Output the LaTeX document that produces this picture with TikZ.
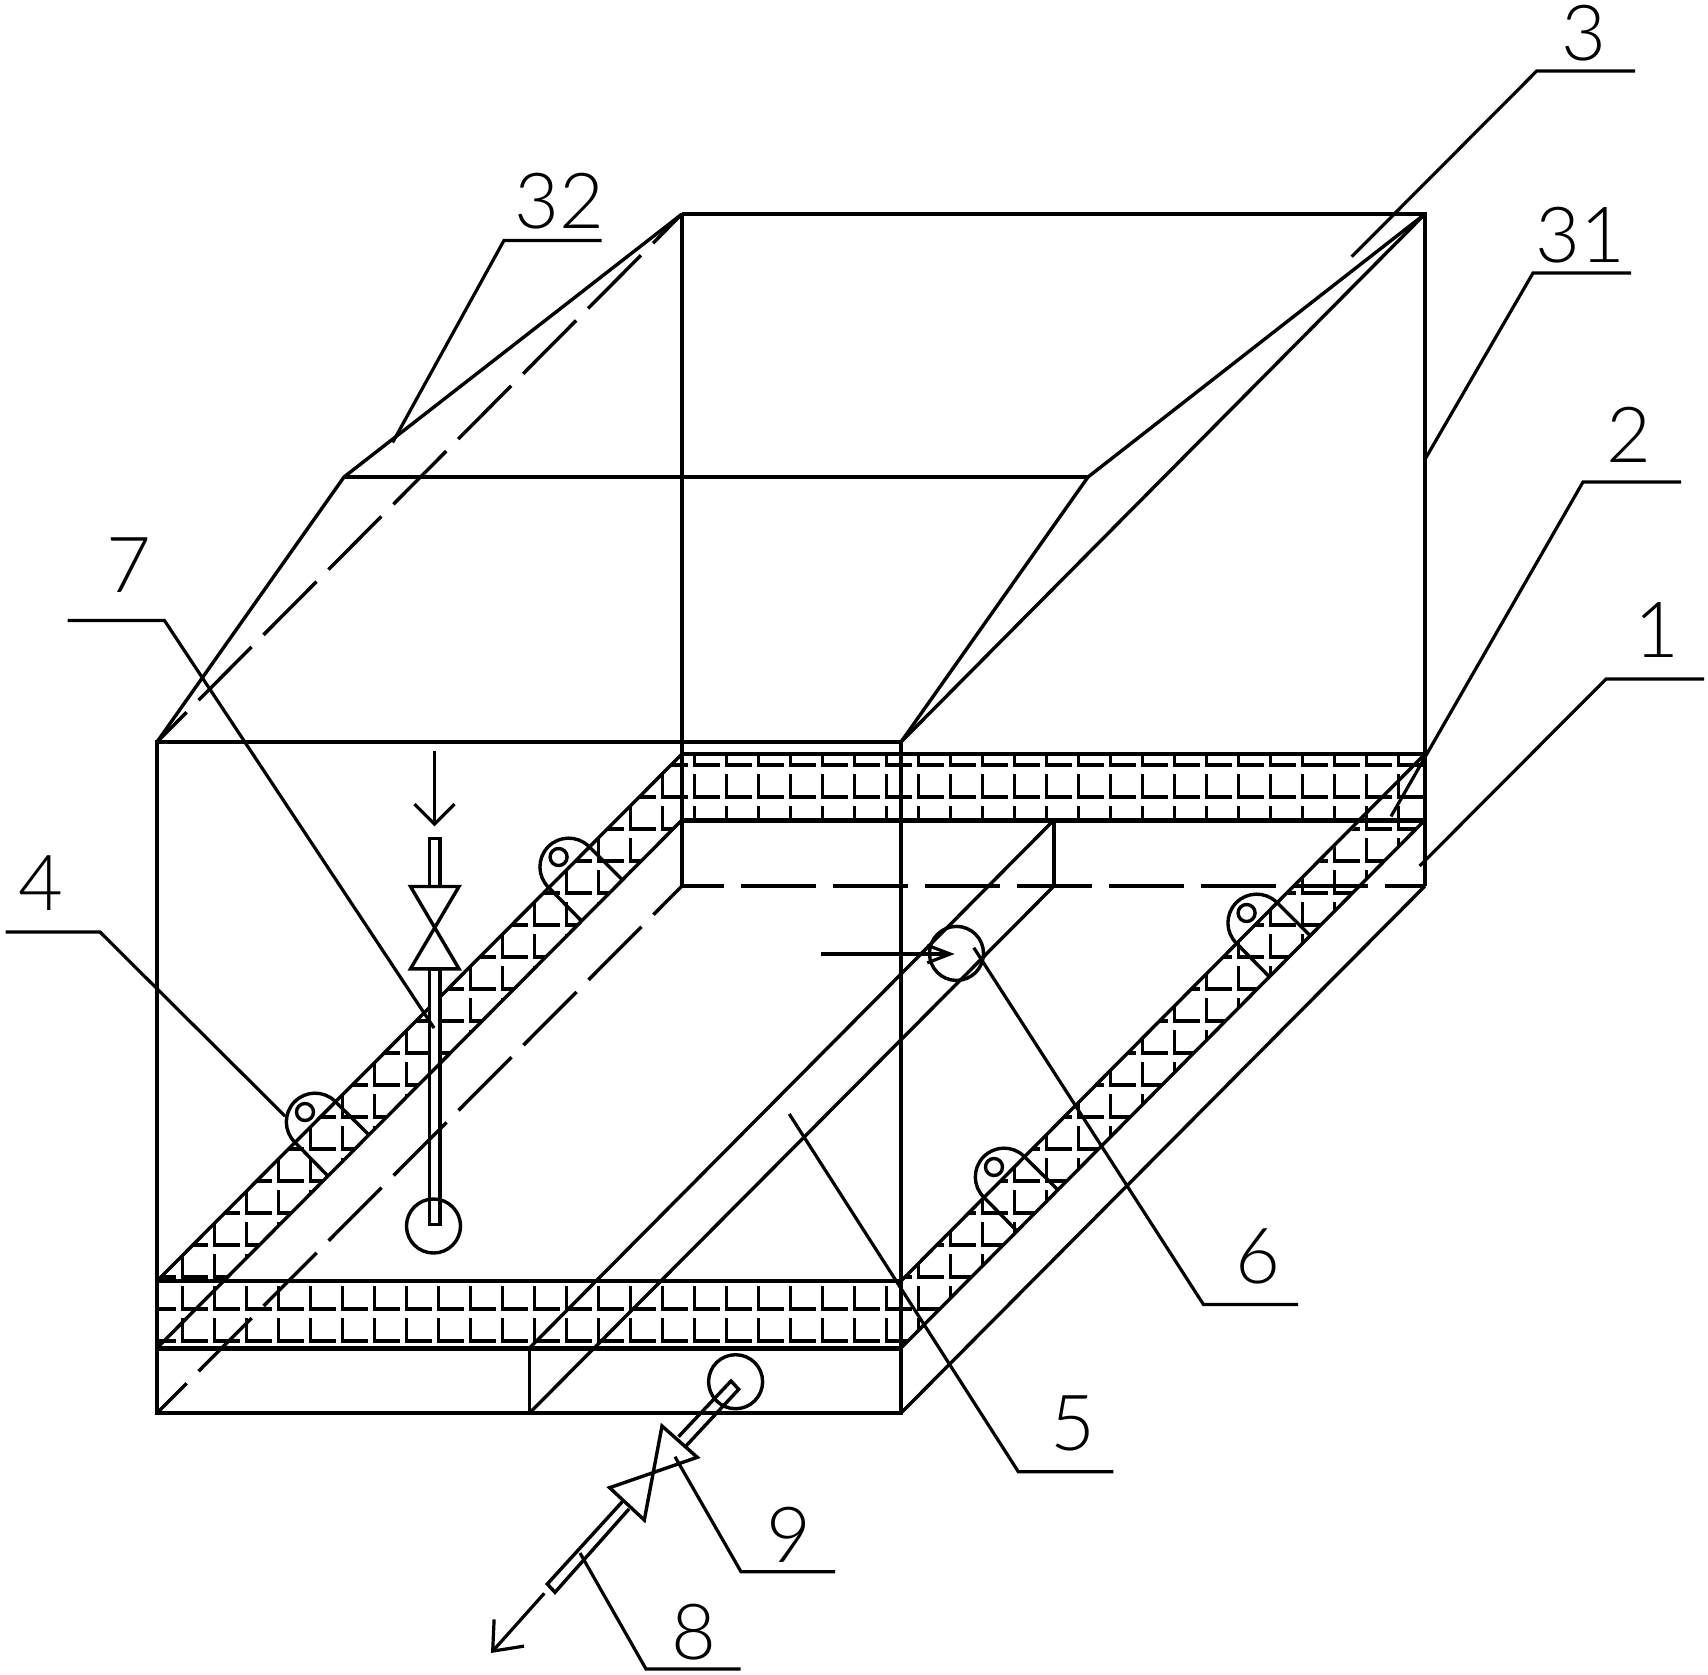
\documentclass[tikz,border=0pt]{standalone}
\usepackage{fontspec}
\setsansfont{Lato}[UprightFont=* Light]
\usepackage{tikz}
\usetikzlibrary{arrows.meta}
\tikzset{>={Straight Barb[length=5.7pt,width=11.4pt]}}
\tikzset{
    outline/.style={line width=0.034cm},
    heavy/.style={line width=0.05cm},
    hidden/.style={line width=0.034cm,dash pattern=on 0.75cm off 0.17cm,dash phase=0.33cm},
    leader/.style={line width=0.032cm},
    cell/.style={line width=0.036cm},
    pipe/.style={line width=0.034cm,fill=white},
    flow/.style={line width=0.032cm,->},
    caption/.style={font=\fontsize{22}{24}\selectfont\sffamily,inner sep=0pt},
}

\begin{document}
\begin{tikzpicture}[x=0.01cm,y=0.01cm]
		\useasboundingbox (0,0) rectangle (1708,-1675);

		% box corners
		\coordinate (ftl) at (157,-742);
		\coordinate (ftr) at (901,-742);
		\coordinate (fbl) at (157,-1413);
		\coordinate (fbm) at (529.5,-1413);
		\coordinate (fbr) at (901,-1413);
		\coordinate (btl) at (682,-214);
		\coordinate (btr) at (1425,-214);
		\coordinate (bbl) at (682,-886);
		\coordinate (bbm) at (1054,-886);
		\coordinate (bbr) at (1425,-886);
		\coordinate (rl) at (344,-477);
		\coordinate (rr) at (1088,-477);
		% band corners
		\coordinate (fu1) at (157,-1281);
		\coordinate (fu2) at (901,-1281);
		\coordinate (fd1) at (157,-1348);
		\coordinate (fdm) at (529.5,-1348);
		\coordinate (fd2) at (901,-1348);
		\coordinate (bu1) at (682,-754);
		\coordinate (bu2) at (1425,-754);
		\coordinate (bd1) at (682,-820);
		\coordinate (bdm) at (1054,-820);
		\coordinate (bd2) at (1425,-820);

		% filter mesh
		\begin{scope}[even odd rule]
			\clip (fd1) -- (fu1) -- (bu1) -- (bu2) -- (bd2) -- (fd2) -- cycle
				(224,-1281) -- (fu2) -- (1362,-820) -- (bd1) -- cycle;
			\foreach \i in {-18,...,22}
				\foreach \j in {0,...,18}{
					\pgfmathsetmacro{\hx}{694.5+32*\i}
					\pgfmathsetmacro{\hy}{-765-32*\j}
					\draw[cell] (\hx,\hy+23) -- (\hx,\hy) -- ++(25,0);
				}
		\end{scope}
		\draw[outline] (fu1) -- (bu1);

		% inlet pipe
		\draw[pipe] (429.3,-838.6) rectangle (440,-886.5);
		\draw[pipe] (429.3,-968.8) rectangle (440,-1224.4);
		\draw[pipe] (410.5,-886.5) -- (459,-886.5) -- (410.5,-968.8) -- (459,-968.8) -- cycle;
		\draw[outline] (433.5,-1226) circle (0.27cm);
		\coordinate (ia) at (434.5,-750.6);
		\coordinate (ib) at (434.5,-826.4);
		\draw[flow,>={Straight Barb[length=5.7pt,width=11.4pt]}] (ia) -- (ib);

		% box
		\draw[outline] (ftl) -- (fbl) -- (fbr) -- (ftr) -- cycle;
		\draw[outline] (btl) -- (btr) -- (bbr);
		\draw[outline] (btl) -- (bbl);
		\draw[outline] (fbr) -- (bbr);
		\draw[outline] (ftl) -- (rl) -- (btl);
		\draw[outline] (rl) -- (rr);
		\draw[outline] (ftr) -- (rr) -- (btr);
		\draw[outline] (ftr) -- (btr);
		\draw[hidden] (ftl) -- (btl);
		\draw[hidden] (fbl) -- (bbl);
		\draw[hidden] (bbl) -- (bbr);

		% band edges
		\draw[outline] (fu1) -- (fu2);
		\draw[heavy] (fd1) -- (fd2);
		\draw[outline] (bu1) -- (bu2);
		\draw[heavy] (bd1) -- (bd2);
		\draw[outline] (fd1) -- (bd1);
		\draw[outline] (fu2) -- (bu2);
		\draw[outline] (fd2) -- (bd2);

		% trough
		\draw[outline] (fdm) -- (fbm);
		\draw[outline] (bdm) -- (bbm);
		\draw[outline] (fdm) -- (bdm);
		\draw[outline] (fbm) -- (bbm);

		% lugs
		\foreach \lx/\ly in {305/-1112,558.6/-857,994/-1167,1246.6/-913}{
			\begin{scope}[shift={(\lx,\ly)}]
				\draw[outline] (0,0) circle (0.085cm);
				\draw[outline] (64,-23) -- (30,10.8) arc[start angle=46,end angle=226,radius=0.287cm] -- (22,-63);
			\end{scope}
		}

		% overflow port
		\draw[outline] (956.5,-953.4) circle (0.27cm);
		\coordinate (oa) at (820.6,-954);
		\coordinate (ob) at (954.6,-954);
		\draw[flow,>={Straight Barb[length=6.5pt,width=5pt]}] (oa) -- (ob);

		% outlet pipe
		\draw[outline] (735.6,-1381.7) circle (0.27cm);
		\draw[outline] (678.5,-1436.7) -- (731,-1381) -- (738.7,-1389.3) -- (686,-1446);
		\draw[outline] (622.3,-1501.7) -- (547.3,-1584) -- (555,-1592.3) -- (629,-1509);
		\draw[pipe,fill=none] (662,-1426) -- (697.3,-1457.3) -- (609.6,-1487.7) -- (644.3,-1520) -- cycle;
		\coordinate (ua) at (544.3,-1593.3);
		\coordinate (ub) at (491,-1653);
		\draw[flow,>={Straight Barb[length=7pt,width=11.4pt]}] (ua) -- (ub);

		% leaders and captions
		\draw[leader] (1351.7,-256.7) -- (1536.7,-71) -- (1635,-71);
		\node[caption] (n3) at (1584,-32.7) {3};
		\draw[leader] (1425,-459.3) -- (1533,-273) -- (1631,-273);
		\node[caption] (n31) at (1580,-235) {31};
		\draw[leader] (1391,-816.4) -- (1583,-482) -- (1681,-482);
		\node[caption] (n2) at (1629,-435) {2};
		\draw[leader] (1419.6,-866) -- (1606,-679) -- (1704,-679);
		\node[caption] (n1) at (1657,-630) {1};
		\draw[leader] (392.6,-442.5) -- (504,-240.4) -- (601.5,-240.4);
		\node[caption] (n32) at (559,-201.4) {32};
		\draw[leader] (434,-1028) -- (164.4,-620.4) -- (67.5,-620.4);
		\node[caption] (n7) at (128.6,-565) {7};
		\draw[leader] (285,-1116) -- (100,-932) -- (5.5,-932);
		\node[caption] (n4) at (41,-883) {4};
		\draw[leader] (973.8,-947.7) -- (1203.4,-1304.4) -- (1298,-1304.4);
		\node[caption] (n6) at (1258,-1256.5) {6};
		\draw[leader] (789.3,-1114) -- (1018.3,-1471.7) -- (1113.3,-1471.7);
		\node[caption] (n5) at (1073.3,-1423.3) {5};
		\draw[leader] (675,-1456.7) -- (741,-1571.7) -- (835,-1571.7);
		\node[caption] (n9) at (789,-1535) {9};
		\draw[leader] (580,-1553) -- (646,-1669) -- (740.7,-1669);
		\node[caption] (n8) at (694,-1631.7) {8};
	\end{tikzpicture}
\end{document}
